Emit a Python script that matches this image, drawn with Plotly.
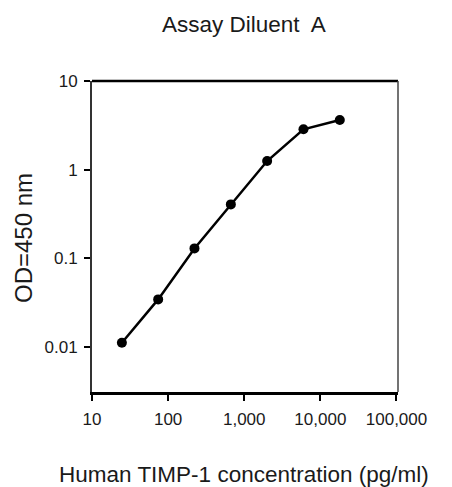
import plotly.graph_objects as go

# Data (3-fold dilution series)
concentration = [24.7, 74, 222, 667, 2000, 6000, 18000]
od450 = [0.0111, 0.0343, 0.129, 0.405, 1.25, 2.85, 3.63]

x_tickvals = [10, 100, 1000, 10000, 100000]
x_ticktext = ["10", "100", "1,000", "10,000", "100,000"]
y_tickvals = [0.01, 0.1, 1, 10]
y_ticktext = ["0.01", "0.1", "1", "10"]

title_text = "Assay Diluent  A"
x_title = "Human TIMP-1 concentration (pg/ml)"
y_title = "OD=450 nm"

FONT = "Liberation Sans, Arial, sans-serif"
TXT = "#1a1a1a"

fig = go.Figure()
fig.add_trace(go.Scatter(
    x=concentration, y=od450, mode="lines+markers",
    line=dict(color="black", width=2.5),
    marker=dict(color="black", size=10, symbol="circle"),
    showlegend=False, hoverinfo="skip",
))

fig.update_layout(
    width=452, height=487,
    margin=dict(l=92, r=54, t=81, b=95),
    paper_bgcolor="white", plot_bgcolor="white",
    font=dict(family=FONT, color=TXT, size=17),
    showlegend=False,
)

fig.update_xaxes(
    type="log", range=[1, 5.02],
    tickvals=x_tickvals, ticktext=x_ticktext,
    ticks="outside", ticklen=6, tickwidth=2, tickcolor="black",
    showline=True, linewidth=2.5, linecolor="black",
    showgrid=False, zeroline=False,
    tickfont=dict(size=17, color=TXT), ticklabelstandoff=4,
)
fig.update_yaxes(
    type="log", range=[-2.51, 1],
    tickvals=y_tickvals, ticktext=y_ticktext,
    ticks="outside", ticklen=6, tickwidth=2, tickcolor="black",
    showline=True, linewidth=1.8, linecolor="#333333",
    showgrid=False, zeroline=False,
    tickfont=dict(size=17, color=TXT), ticklabelstandoff=3,
)

# Top and right frame lines of the plot box
fig.add_shape(type="line", xref="paper", yref="paper", x0=0, x1=1, y0=1, y1=1,
              line=dict(color="black", width=2.5))
fig.add_shape(type="line", xref="paper", yref="paper", x0=1, x1=1, y0=0, y1=1,
              line=dict(color="#444444", width=1.5))

fig.add_annotation(text=title_text, xref="paper", yref="paper",
                   x=(244 - 92) / 306, y=(392 - 24) / 311, showarrow=False,
                   font=dict(size=22.5, color=TXT, family=FONT),
                   xanchor="center", yanchor="middle")
fig.add_annotation(text=x_title, xref="paper", yref="paper",
                   x=(244 - 92) / 306, y=(392 - 474) / 311, showarrow=False,
                   font=dict(size=22.5, color=TXT, family=FONT),
                   xanchor="center", yanchor="middle")
fig.add_annotation(text=y_title, xref="paper", yref="paper",
                   x=(23 - 92) / 306, y=(392 - 238) / 311, showarrow=False,
                   textangle=-90,
                   font=dict(size=24, color=TXT, family=FONT),
                   xanchor="center", yanchor="middle")

fig.write_html(
    "out.html",
    config={"displayModeBar": False},
    post_script="document.body.style.margin='0';document.body.style.overflow='hidden';",
)
